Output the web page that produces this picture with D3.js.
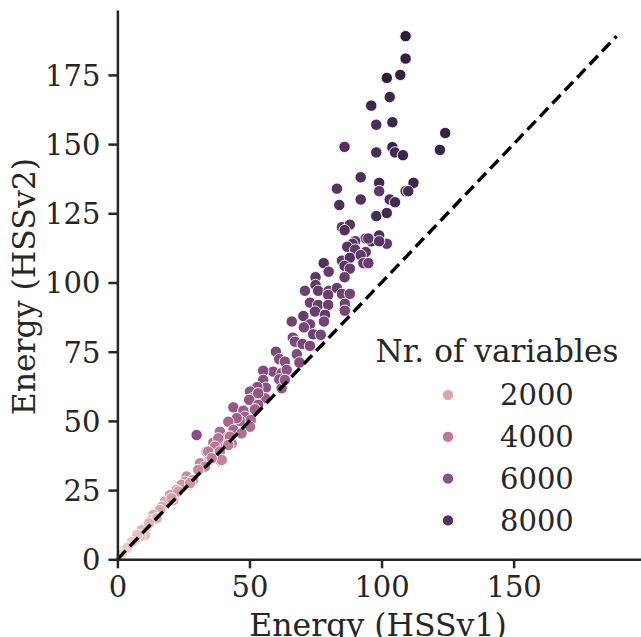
<!DOCTYPE html>
<html>
<head>
<meta charset="utf-8">
<script src="https://cdn.jsdelivr.net/npm/d3@7"></script>
<style>
  html, body { margin: 0; padding: 0; background: #ffffff; }
  svg { display: block; }
  text { font-family: "DejaVu Serif", serif; fill: #262626; }
</style>
</head>
<body>
<svg id="chart" width="641" height="637"></svg>
<script>
// ---- data ----
// Energy with HSSv1 (x), Energy with HSSv2 (y), Nr. of variables (hue)
const energyV1 = [
  109.1,109.1,102.0,107.1,103.1,96.1,98.0,104.1,124.1,122.1,
  86.0,98.0,104.1,105.1,108.1,92.1,112.1,99.1,83.1,99.1,
  109.1,110.1,84.0,92.1,103.1,105.1,98.0,102.0,85.0,88.0,
  86.0,99.1,96.1,94.0,95.0,102.0,99.1,90.0,89.0,87.0,
  90.0,94.0,85.0,88.0,92.1,93.1,95.0,78.1,80.0,86.0,
  88.0,75.0,86.0,71.0,75.0,76.0,80.0,83.1,85.0,88.0,
  79.8,72.9,76.0,79.8,86.1,74.8,78.6,78.2,86.1,70.4,
  66.0,72.9,70.6,74.1,77.0,66.4,67.2,70.1,72.9,67.9,
  68.9,60.0,61.3,63.4,59.0,55.2,62.2,61.3,55.2,56.2,
  62.2,53.0,50.2,51.4,55.9,53.3,49.9,53.3,43.9,52.1,
  47.7,48.3,46.4,45.2,50.5,50.2,42.0,43.9,47.0,38.8,
  42.0,38.8,36.3,43.3,33.8,36.9,39.5,38.2,34.9,39.1,
  31.9,30.0,64.1,63.4,
  42.6,38.2,42.0,36.9,34.4,38.8,39.5,35.7,31.3,33.2,
  30.6,26.2,25.6,28.7,24.3,22.4,19.9,21.2,18.0,16.8,
  16.1,13.6,13.0,11.1,9.2,10.4,8.6,6.7,4.8,2.9,
  1.6,14.9,12.0,27.5,23.0,20.5,7.5,5.5,3.8
];
const energyV2 = [
  189.0,180.9,173.9,175.0,167.0,163.9,157.0,157.9,154.0,147.9,
  149.0,147.0,148.9,147.0,146.0,138.0,136.0,136.0,133.9,133.0,
  133.0,133.0,128.0,130.0,130.0,129.0,124.0,125.1,120.0,120.9,
  118.9,117.0,114.9,115.9,115.9,114.0,114.9,114.9,114.0,112.9,
  111.9,111.0,107.9,108.9,109.9,107.0,107.0,107.0,103.9,106.0,
  105.0,101.9,101.9,97.0,99.1,97.0,97.0,98.0,95.9,95.9,
  95.5,92.7,91.9,91.9,92.3,89.5,88.3,85.9,89.8,87.9,
  85.9,84.9,83.8,81.3,81.1,80.1,78.6,77.8,77.1,74.1,
  71.1,75.0,72.3,71.4,67.8,68.1,67.2,65.0,64.8,62.0,
  61.8,62.2,60.6,58.2,58.2,60.0,57.6,55.8,54.9,54.2,
  53.7,51.5,50.0,51.0,50.3,47.9,49.7,46.7,45.5,46.1,
  44.3,42.5,42.1,41.9,38.9,39.5,40.7,37.1,35.9,35.6,
  34.7,44.9,68.4,64.8,
  44.3,43.7,41.3,40.7,38.9,38.9,35.9,36.5,34.7,33.5,
  32.3,29.9,28.0,28.7,26.9,25.0,23.2,21.4,20.8,19.0,
  17.8,16.0,14.2,11.8,10.6,8.8,8.2,7.0,5.2,3.4,
  1.6,14.8,13.0,27.5,24.5,22.0,8.8,6.2,4.2
];
const nrVariables = [
  9300,9100,9300,9000,8800,8800,8200,8800,9000,9000,
  8000,8400,8900,8600,8800,8200,8700,8600,7800,7600,
  8200,8400,8200,8000,8200,8600,8400,8500,7600,7800,
  8000,8200,8400,7400,7600,7400,7800,7800,7900,7600,
  7400,7600,7400,7900,7500,7400,7200,8000,7400,7800,
  7300,7600,7200,7000,7500,7300,7000,7200,7000,6800,
  7200,7000,7300,7100,6900,7200,7400,6800,6700,7300,
  6900,6800,6600,7000,6700,6600,6500,6700,6500,6400,
  6300,6500,6400,6200,6200,6300,6100,6000,6200,6000,
  5600,6000,5900,5800,5400,5700,5800,5600,5600,5200,
  5400,5300,5000,5200,4900,4600,4900,4800,4500,4600,
  4400,4300,4400,4000,4000,4100,4200,3800,3700,3600,
  3500,6000,6000,5800,
  4300,4200,4000,4100,3900,3800,3500,3700,3500,3400,
  3300,3100,2900,2800,2800,2600,2500,2300,2300,2100,
  2000,1800,1700,1500,1300,1100,1100,900,700,500,
  300,1600,1500,2900,2500,2400,1000,800,600
];
const xTicks = [0, 50, 100, 150];
const yTicks = [0, 25, 50, 75, 100, 125, 150, 175];
const legendValues = [2000, 4000, 6000, 8000];
const legendTitle = "Nr. of variables";
const xLabel = "Energy (HSSv1)";
const yLabel = "Energy (HSSv2)";

// ---- seaborn-like cubehelix colormap (light 0.85 -> dark 0.15) ----
function cubehelixColor(t) {
  const start = 0, rot = 0.4, gamma = 1.0, hue = 0.8, light = 0.85, dark = 0.15;
  const xv = light + (dark - light) * t;
  const xg = Math.pow(xv, gamma);
  const a = hue * xg * (1 - xg) / 2;
  const phi = 2 * Math.PI * (start / 3 + rot * xv);
  const f = (p0, p1) => Math.max(0, Math.min(1, xg + a * (p0 * Math.cos(phi) + p1 * Math.sin(phi))));
  const r = f(-0.14861, 1.78277), g = f(-0.29227, -0.90649), b = f(1.97294, 0.0);
  return d3.rgb(r * 255, g * 255, b * 255).formatHex();
}

(function () {
  const points = energyV1.map((v, i) => ({ x: v, y: energyV2[i], h: nrVariables[i] }));

  const svg = d3.select("#chart");
  const pLeft = 117.4, pRight = 642.6, pTop = 10, pBottom = 559.3;

  const dataMax = d3.max(points, d => Math.max(d.x, d.y));
  const x = d3.scaleLinear().domain([0, dataMax * 1.052]).range([pLeft, pRight]);
  const y = d3.scaleLinear().domain([0, dataMax * 1.05]).range([pBottom, pTop]);
  const hueNorm = d3.scaleLinear().domain(d3.extent(nrVariables)).range([0, 1]);
  const color = h => cubehelixColor(hueNorm(h));

  // points
  svg.append("g").selectAll("circle").data(points).join("circle")
    .attr("cx", d => x(d.x)).attr("cy", d => y(d.y)).attr("r", 5.7)
    .attr("fill", d => color(d.h))
    .attr("stroke", "#ffffff").attr("stroke-width", 0.9);

  // identity line
  svg.append("line")
    .attr("x1", x(0)).attr("y1", y(0))
    .attr("x2", x(dataMax)).attr("y2", y(dataMax))
    .attr("stroke", "#000000").attr("stroke-width", 3.4)
    .attr("stroke-dasharray", "12,6");

  // axes
  const axisColor = "#262626";
  const xAxis = svg.append("g").attr("transform", `translate(0,${pBottom})`)
    .call(d3.axisBottom(x).tickValues(xTicks).tickSize(9).tickPadding(8).tickSizeOuter(0));
  const yAxis = svg.append("g").attr("transform", `translate(${pLeft},0)`)
    .call(d3.axisLeft(y).tickValues(yTicks).tickSize(9).tickPadding(8).tickSizeOuter(0));
  [xAxis, yAxis].forEach(g => {
    g.select(".domain").attr("stroke", axisColor).attr("stroke-width", 2.5);
    g.selectAll(".tick line").attr("stroke", axisColor).attr("stroke-width", 2.5);
    g.selectAll(".tick text").attr("font-family", "DejaVu Serif").attr("font-size", 29).attr("fill", axisColor);
  });
  xAxis.selectAll(".tick text").attr("dy", "0.7em");
  yAxis.selectAll(".tick text").attr("dy", "0.36em");

  // axis labels
  svg.append("text").attr("x", (pLeft + pRight) / 2 - 2).attr("y", 636)
    .attr("text-anchor", "middle").attr("font-size", 31.5).text(xLabel);
  svg.append("text")
    .attr("transform", `translate(35,${(pTop + pBottom) / 2 + 2}) rotate(-90)`)
    .attr("text-anchor", "middle").attr("font-size", 31.5).text(yLabel);

  // legend
  const legend = svg.append("g");
  legend.append("text").attr("x", 497).attr("y", 362).attr("text-anchor", "middle")
    .attr("font-size", 31.2).text(legendTitle);
  const rows = legend.selectAll("g.row").data(legendValues).join("g").attr("class", "row")
    .attr("transform", (d, i) => `translate(0,${395 + i * 41.8})`);
  rows.append("circle").attr("cx", 448).attr("cy", 0).attr("r", 5.6)
    .attr("fill", d => color(d)).attr("stroke", "#ffffff").attr("stroke-width", 0.9);
  rows.append("text").attr("x", 500).attr("y", 0).attr("dy", "0.36em")
    .attr("font-size", 29).text(d => d);
})();
</script>
</body>
</html>
